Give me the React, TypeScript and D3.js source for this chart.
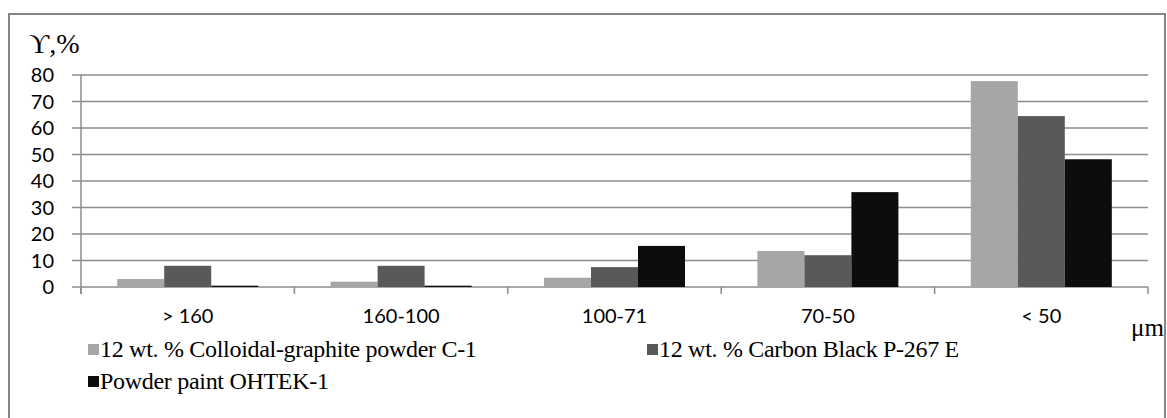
import React from 'react'
import * as d3 from 'd3'

const categories = ['> 160', '160-100', '100-71', '70-50', '< 50']
const seriesNames = [
  '12 wt. % Colloidal-graphite powder C-1',
  '12 wt. % Carbon Black P-267 E',
  'Powder paint  OHTEK-1',
]
const colloidal = [3, 2, 3.5, 13.6, 77.7]
const carbonBlack = [8, 8, 7.5, 12, 64.5]
const powderPaint = [0.5, 0.5, 15.5, 35.8, 48.2]
const yTicks = [0, 10, 20, 30, 40, 50, 60, 70, 80]
const colors = ['#a6a6a6', '#595959', '#0d0d0d']

const W = 1167
const H = 418

const App: React.FC = () => {
  const series = [colloidal, carbonBlack, powderPaint]
  const x0 = d3.scaleBand<string>().domain(categories).range([81, 1148])
  const bw = x0.bandwidth()
  const groupPad = (bw - 141) / 2
  const x1 = d3
    .scaleBand<number>()
    .domain([0, 1, 2])
    .range([groupPad, groupPad + 141])
  const y = d3.scaleLinear().domain([0, 80]).range([287, 75])

  const sans = 'Lato, "Open Sans", sans-serif'
  const serif = '"Liberation Serif", "Times New Roman", serif'

  return (
    <svg width={W} height={H} style={{ display: 'block', position: 'absolute', left: 0, top: 0 }}>
      <rect x={0} y={0} width={W} height={H} fill="#fff" />
      <rect x={9} y={14} width={1156} height={410} fill="#fff" stroke="#868686" strokeWidth={2} />

      {/* gridlines */}
      {yTicks.map(t => (
        <line key={t} x1={72} x2={1148} y1={y(t)} y2={y(t)} stroke="#8c8c8c" strokeWidth={1.5} />
      ))}
      {/* category ticks */}
      {categories.map(c => (
        <line
          key={c}
          x1={x0(c)!}
          x2={x0(c)!}
          y1={y(0)}
          y2={y(0) + 7}
          stroke="#8c8c8c"
          strokeWidth={1.5}
        />
      ))}
      <line x1={1148} x2={1148} y1={y(0)} y2={y(0) + 7} stroke="#8c8c8c" strokeWidth={1.5} />
      <line x1={81} x2={81} y1={y(80)} y2={y(0) + 7} stroke="#8c8c8c" strokeWidth={1.5} />

      {/* bars */}
      {categories.map((c, ci) => (
        <g key={c} transform={`translate(${x0(c)},0)`}>
          {series.map((s, si) => (
            <rect
              key={si}
              x={x1(si)!}
              width={x1.bandwidth()}
              y={y(s[ci])}
              height={y(0) - y(s[ci])}
              fill={colors[si]}
            />
          ))}
        </g>
      ))}

      {/* y labels */}
      {yTicks.map(t => (
        <text
          key={t}
          x={54}
          y={y(t)}
          dy="0.36em"
          textAnchor="end"
          fontFamily={sans}
          fontSize={20}
          fill="#000"
        >
          {t}
        </text>
      ))}
      <text x={29} y={53} fontFamily={serif} fontSize={28} fill="#000">
        ϒ,%
      </text>

      {/* x labels */}
      {categories.map(c => (
        <text
          key={c}
          x={x0(c)! + bw / 2}
          y={316}
          dy="0.36em"
          textAnchor="middle"
          fontFamily={sans}
          fontSize={20}
          fill="#000"
        >
          {c}
        </text>
      ))}
      <text x={1131} y={336} fontFamily={serif} fontSize={25} fill="#000">
        μm
      </text>

      {/* legend */}
      {[
        { i: 0, x: 88, y: 349 },
        { i: 1, x: 647, y: 349 },
        { i: 2, x: 88, y: 381 },
      ].map(l => (
        <g key={l.i}>
          <rect x={l.x} y={l.y - 5} width={11} height={11} fill={colors[l.i]} />
          <text
            x={l.x + 12}
            y={l.y}
            dy="0.34em"
            fontFamily={serif}
            fontSize={24}
            letterSpacing={-0.3}
            fill="#000"
          >
            {seriesNames[l.i]}
          </text>
        </g>
      ))}
    </svg>
  )
}

export default App
